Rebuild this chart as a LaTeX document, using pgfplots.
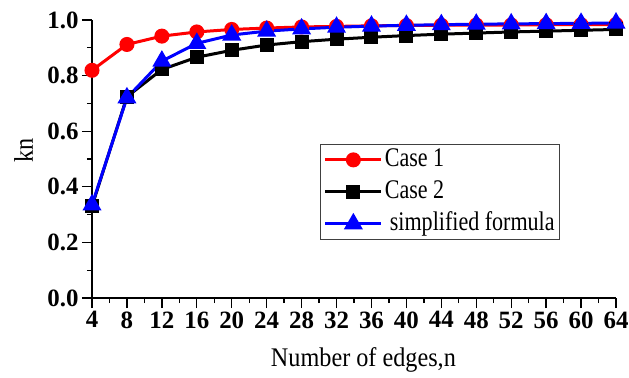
\documentclass[border=0pt]{standalone}
\usepackage{fontspec}
\setmainfont{Liberation Serif}
\newfontfamily\legfont[FakeStretch=0.82]{Liberation Serif}
\newfontfamily\labfont[FakeStretch=0.9]{Liberation Serif}
\usepackage{pgfplots}
\pgfplotsset{compat=1.18}
\definecolor{myred}{RGB}{255,0,0}
\definecolor{myblue}{RGB}{0,0,255}
\begin{document}
\begin{tikzpicture}
\useasboundingbox (-92bp,-80bp) rectangle (537bp,298bp);
\begin{axis}[
  at={(0,0)}, anchor=south west,
  scale only axis, width=524bp, height=278bp,
  xmin=4, xmax=64, ymin=0, ymax=1,
  axis lines*=left,
  axis line style={line width=1.3bp, -},
  xtick={4,8,...,64},
  ytick={0,0.2,0.4,0.6,0.8,1},
  minor x tick num=1, minor y tick num=1,
  tick align=outside,
  major tick length=10bp, minor tick length=5bp,
  every tick/.style={black, line width=1.3bp},
  /pgf/number format/assume math mode=true,
  yticklabel style={/pgf/number format/.cd, fixed, fixed zerofill, precision=1},
  xticklabel style={/pgf/number format/.cd, fixed, precision=0},
  tick label style={font=\bfseries\fontsize{25}{25}\selectfont},
  xlabel={Number of edges,n},
  ylabel={kn},
  xlabel style={font=\labfont\fontsize{27}{27}\selectfont, at={(axis description cs:0.518,-0.247)}, anchor=base},
  ylabel style={font=\labfont\fontsize{27}{27}\selectfont, at={(axis description cs:-0.1126,0.532)}, anchor=base},
  clip=false,
  legend style={at={(axis description cs:0.436,0.554)}, anchor=north west, draw=black!75, line width=0.8bp,
    font=\legfont\fontsize{27}{28}\selectfont, cells={anchor=west}, inner xsep=3bp, inner ysep=2bp,
    nodes={text height=18bp, text depth=5bp},
    row sep=5bp},
  legend image code/.code={\draw[#1, mark repeat=2, mark phase=2] plot coordinates {(0bp,0bp) (28bp,0bp) (56bp,0bp)};},
]
\addplot[myred, line width=3bp, mark=*, mark size=6bp, mark options={solid, fill=myred}] coordinates {
(4,0.819) (8,0.912) (12,0.942) (16,0.957) (20,0.966) (24,0.971) (28,0.975) (32,0.977)
(36,0.979) (40,0.980) (44,0.981) (48,0.982) (52,0.982) (56,0.983) (60,0.983) (64,0.984)};
\addlegendentry{Case 1}
\addplot[black, line width=3bp, mark=square*, mark size=5.5bp, mark options={solid, fill=black}] coordinates {
(4,0.330) (8,0.724) (12,0.822) (16,0.866) (20,0.891) (24,0.910) (28,0.922) (32,0.931)
(36,0.938) (40,0.944) (44,0.949) (48,0.953) (52,0.957) (56,0.960) (60,0.963) (64,0.966)};
\addlegendentry{Case 2}
\addplot[myblue, line width=3bp, mark=triangle*, mark size=8bp, mark options={solid, fill=myblue}] coordinates {
(4,0.335) (8,0.720) (12,0.852) (16,0.916) (20,0.946) (24,0.960) (28,0.968) (32,0.974)
(36,0.978) (40,0.981) (44,0.983) (48,0.985) (52,0.986) (56,0.987) (60,0.988) (64,0.989)};
\addlegendentry{\hspace{5bp}simplified formula}
\end{axis}
\end{tikzpicture}
\end{document}
